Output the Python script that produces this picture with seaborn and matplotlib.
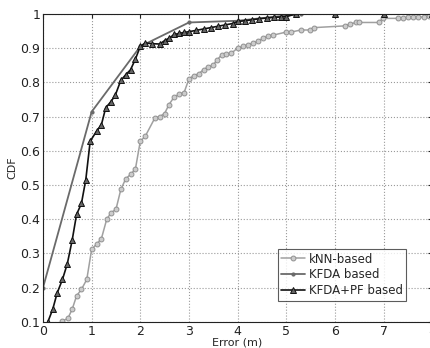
import matplotlib
matplotlib.use("Agg")
import matplotlib.pyplot as plt
import seaborn as sns
import pandas as pd

# kNN-based
knn_x = [0.40, 0.51, 0.60, 0.69, 0.79, 0.90, 1.00, 1.10, 1.20, 1.31, 1.40, 1.50, 1.60, 1.70,
         1.80, 1.90, 2.00, 2.10, 2.30, 2.40, 2.50, 2.59, 2.69, 2.80, 2.90, 3.00, 3.10, 3.20,
         3.30, 3.40, 3.50, 3.57, 3.67, 3.77, 3.87, 4.00, 4.11, 4.21, 4.32, 4.42, 4.52, 4.63,
         4.73, 5.00, 5.10, 5.30, 5.48, 5.58, 6.20, 6.32, 6.44, 6.50, 6.90, 6.99, 7.30, 7.40,
         7.50, 7.60, 7.70, 7.83, 7.93, 8.00]
knn_y = [0.103, 0.110, 0.137, 0.176, 0.195, 0.224, 0.312, 0.327, 0.343, 0.400, 0.419, 0.429,
         0.487, 0.518, 0.531, 0.547, 0.628, 0.642, 0.696, 0.700, 0.709, 0.735, 0.756, 0.766,
         0.770, 0.810, 0.820, 0.825, 0.837, 0.845, 0.851, 0.864, 0.880, 0.883, 0.885, 0.900,
         0.905, 0.910, 0.915, 0.920, 0.929, 0.936, 0.938, 0.947, 0.947, 0.953, 0.953, 0.960,
         0.965, 0.971, 0.975, 0.975, 0.975, 0.987, 0.987, 0.988, 0.990, 0.990, 0.990, 0.991,
         0.995, 0.997]

# KFDA based
kfda_x = [0.0, 1.0, 2.0, 3.0, 4.0, 5.3, 6.0, 7.0, 8.0]
kfda_y = [0.20, 0.714, 0.905, 0.975, 0.980, 1.0, 1.0, 1.0, 1.0]

# KFDA+PF based
pf_x = [0.10, 0.20, 0.29, 0.40, 0.50, 0.60, 0.69, 0.79, 0.88, 0.97, 1.10, 1.20, 1.29, 1.40,
        1.49, 1.60, 1.70, 1.80, 1.90, 2.00, 2.10, 2.25, 2.40, 2.50, 2.60, 2.70, 2.80, 2.90,
        3.00, 3.15, 3.30, 3.45, 3.60, 3.75, 3.90, 4.00, 4.15, 4.30, 4.45, 4.60, 4.75, 4.90,
        5.00, 5.20, 6.00, 7.00, 8.00]
pf_y = [0.100, 0.137, 0.184, 0.224, 0.270, 0.339, 0.414, 0.446, 0.516, 0.628, 0.657, 0.676,
        0.726, 0.744, 0.764, 0.806, 0.822, 0.837, 0.868, 0.905, 0.915, 0.913, 0.912, 0.922,
        0.930, 0.940, 0.943, 0.946, 0.948, 0.952, 0.956, 0.960, 0.964, 0.968, 0.972, 0.978,
        0.980, 0.983, 0.986, 0.988, 0.990, 0.991, 0.992, 1.0, 1.0, 1.0, 1.0]

sns.set_style("white")
plt.rcParams['font.family'] = ['DejaVu Sans']

fig = plt.figure(figsize=(4.30, 3.48), dpi=100)
ax = fig.add_axes([0.100, 0.075, 0.905, 0.885])

sns.lineplot(x=knn_x, y=knn_y, ax=ax, color="#a0a0a0", lw=1.1, marker="o", markersize=3.5,
             markerfacecolor="#cccccc", markeredgecolor="#909090", markeredgewidth=0.7,
             label="kNN-based", sort=False, estimator=None)
sns.lineplot(x=kfda_x, y=kfda_y, ax=ax, color="#6a6a6a", lw=1.3, marker=".", markersize=4.5,
             markeredgecolor="#6a6a6a", label="KFDA based", sort=False, estimator=None)
sns.lineplot(x=pf_x, y=pf_y, ax=ax, color="#111111", lw=1.2, marker="^", markersize=4,
             markerfacecolor="#666666", markeredgecolor="#111111", markeredgewidth=0.7,
             label="KFDA+PF based", sort=False, estimator=None)

ax.set_xlim(0, 8)
ax.set_ylim(0.1, 1.0)
ax.set_xticks(range(0, 9))
ax.set_yticks([0.1, 0.2, 0.3, 0.4, 0.5, 0.6, 0.7, 0.8, 0.9, 1.0])
ax.set_yticklabels(["0.1", "0.2", "0.3", "0.4", "0.5", "0.6", "0.7", "0.8", "0.9", "1"])
ax.grid(True, linestyle=":", color="#9a9a9a", lw=0.8)
ax.tick_params(direction="in", length=3, labelsize=9, colors="#222222", top=True, right=True,
               pad=2)
for s in ax.spines.values():
    s.set_color("#222222")
    s.set_linewidth(0.8)
ax.set_xlabel("Error (m)", fontsize=8, labelpad=0)
ax.set_ylabel("CDF", fontsize=8, labelpad=2)

leg = ax.legend(loc="lower right", bbox_to_anchor=(0.933, 0.068), fontsize=8.5,
                frameon=True, fancybox=False, handlelength=2.0, handletextpad=0.3,
                borderpad=0.3, labelspacing=0.25, borderaxespad=0)
leg.get_frame().set_edgecolor("#333333")
leg.get_frame().set_linewidth(0.8)

fig.savefig("out.png", dpi=100)
